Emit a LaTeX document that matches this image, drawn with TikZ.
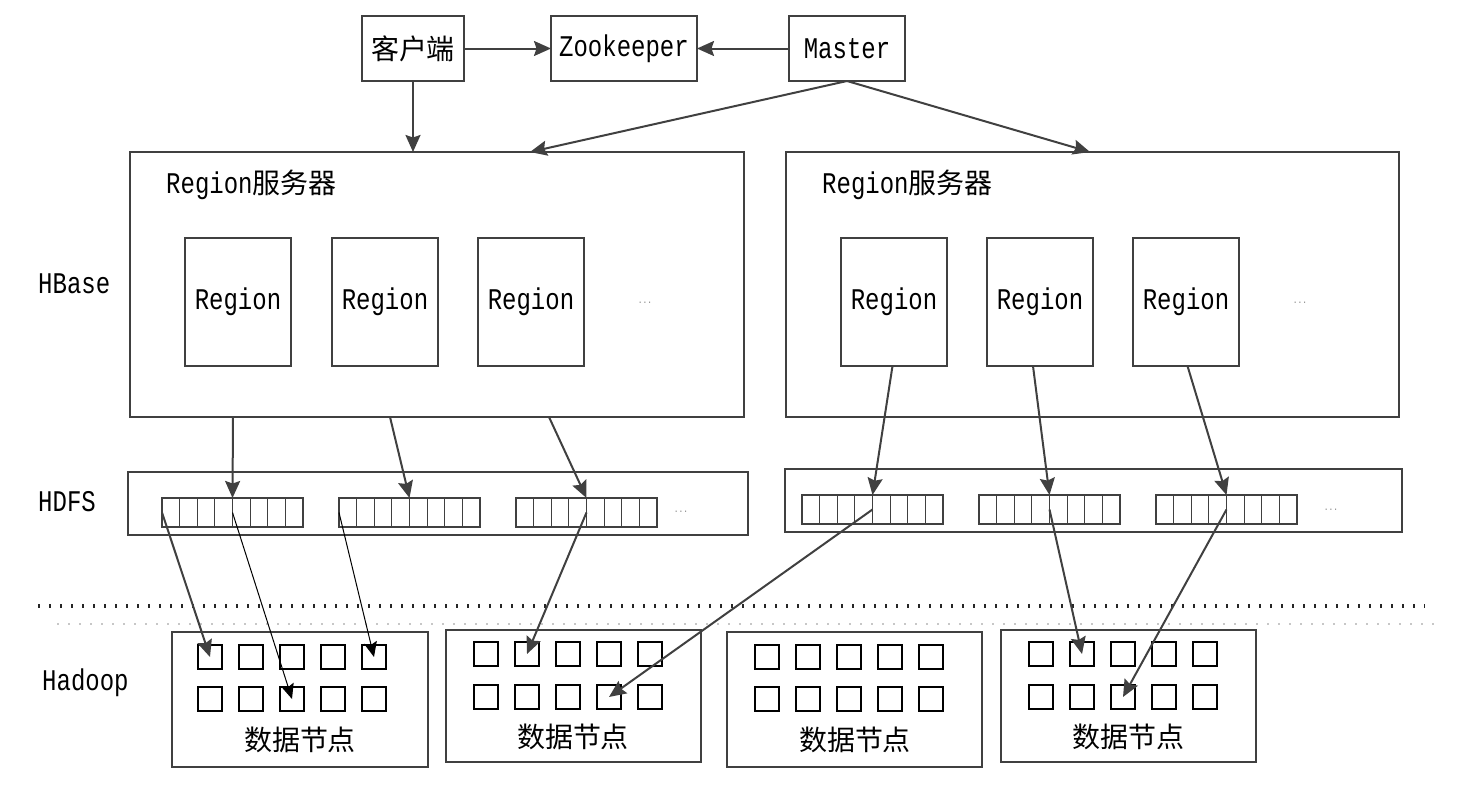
\documentclass[tikz,border=0pt]{standalone}
\usepackage{fontspec}
\setmainfont{Liberation Mono}[FakeStretch=0.8]
\newfontfamily\cjk{Noto Sans CJK SC}[Scale=0.933]
\usetikzlibrary{arrows.meta,calc}
\definecolor{boxc}{HTML}{404040}
\definecolor{arrc}{HTML}{404040}
\begin{document}
\begin{tikzpicture}[x=1pt,y=-1pt,
  box/.style={draw=boxc, line width=1.1pt, inner sep=0pt, outer sep=0pt, anchor=north west,
    font=\fontsize{30}{32}\selectfont},
  lbl/.style={inner sep=0pt, font=\fontsize{30}{32}\selectfont},
  arr/.style={draw=arrc, line width=2pt, -{Stealth[length=17pt,width=15pt,inset=2.5pt]}},
  thinarr/.style={draw=black, line width=1pt, -{Stealth[length=15pt,width=13pt,inset=2.5pt]}},
  strip/.style={draw=boxc, line width=1.1pt, inner sep=0pt, outer sep=0pt, anchor=north west,
    minimum width=141pt, minimum height=29pt},
  sq/.style={draw=black, line width=1.1pt, minimum size=24pt, inner sep=0pt, outer sep=0pt, anchor=north west},
  dots/.style={text=gray, inner sep=0pt, font=\fontsize{10}{10}\selectfont}]
\useasboundingbox (0,0) rectangle (1460,790);

% top row
\node[box, minimum width=102pt, minimum height=65pt] (client) at (362,16) {\cjk 客户端};
\node[box, minimum width=146pt, minimum height=65pt] (zoo) at (551,16) {Zookeeper};
\node[box, minimum width=116pt, minimum height=65pt] (master) at (789,16) {Master};

% region servers
\node[box, minimum width=614pt, minimum height=265pt] (srv1) at (130,152) {};
\node[box, minimum width=613pt, minimum height=265pt] (srv2) at (786,152) {};
\node[lbl, anchor=west] (srv1lbl) at (166,185) {Region{\cjk 服务器}};
\node[lbl, anchor=west] (srv2lbl) at (822,185) {Region{\cjk 服务器}};

\node[box, minimum width=106pt, minimum height=128pt] (r11) at (185,238) {Region};
\node[box, minimum width=106pt, minimum height=128pt] (r12) at (332,238) {Region};
\node[box, minimum width=106pt, minimum height=128pt] (r13) at (478,238) {Region};
\node[box, minimum width=106pt, minimum height=128pt] (r21) at (841,238) {Region};
\node[box, minimum width=106pt, minimum height=128pt] (r22) at (987,238) {Region};
\node[box, minimum width=106pt, minimum height=128pt] (r23) at (1133,238) {Region};
\node[dots] (dt1) at (645,303) {...};
\node[dots] (dt2) at (1300,303) {...};

% side labels
\node[lbl, anchor=west] (hbase) at (38,284) {HBase};
\node[lbl, anchor=west] (hdfs) at (38,502) {HDFS};
\node[lbl, anchor=west] (hadoop) at (42,683) {Hadoop};

% HDFS
\node[box, minimum width=620pt, minimum height=63pt] (h1) at (128,472) {};
\node[box, minimum width=617pt, minimum height=63pt] (h2) at (785,469) {};
\foreach \n/\x/\y in {s11/162/498, s12/339/498, s13/516/498, s21/802/495, s22/979/495, s23/1156/495}{
  \node[strip] (\n) at (\x,\y) {};
  \foreach \k in {1,...,7}
    \draw[draw=boxc, line width=1.1pt] ($(\n.north west)+(\k*17.625,0)$) -- ++(0,29);
}
\node[dots] (dt3) at (681,512) {...};
\node[dots] (dt4) at (1331,510) {...};

% dotted separators
\draw[black!85, line width=3.5pt, dash pattern=on 2.2pt off 8.8pt] (38,606) -- (1425,606);
\draw[black!22, line width=2.5pt, dash pattern=on 2pt off 9pt] (57,624) -- (1440,624);

% data nodes
\node[box, minimum width=256pt, minimum height=135pt] (d1) at (172,632) {};
\node[box, minimum width=255pt, minimum height=132pt] (d2) at (446,630) {};
\node[box, minimum width=255pt, minimum height=135pt] (d3) at (727,632) {};
\node[box, minimum width=255pt, minimum height=132pt] (d4) at (1001,630) {};
\foreach \d/\x/\ya/\yb in {d1/198/645/687, d2/474/642/685, d3/755/645/687, d4/1029/642/685}{
  \foreach \c in {1,...,5}{
    \node[sq] (\d-1-\c) at ({\x+41*(\c-1)},\ya) {};
    \node[sq] (\d-2-\c) at ({\x+41*(\c-1)},\yb) {};
  }
}
\node[lbl] (d1lbl) at (300,740) {\cjk 数据节点};
\node[lbl] (d2lbl) at (573,737) {\cjk 数据节点};
\node[lbl] (d3lbl) at (855,740) {\cjk 数据节点};
\node[lbl] (d4lbl) at (1128,737) {\cjk 数据节点};

% connectors: top
\draw[arr] (client.east) -- (zoo.west);
\draw[arr] (master.west) -- (zoo.east);
\draw[arr] (client.south) -- (client.south |- srv1.north);
\coordinate (m1) at (530,152);
\coordinate (m2) at (1090,152);
\draw[arr] (master.south) -- (m1);
\draw[arr] (master.south) -- (m2);

% servers to HDFS
\coordinate (a1) at (233,417);
\coordinate (a2) at (390,417);
\coordinate (a3) at (549,417);
\draw[arr] (a1) -- (s11.north);
\draw[arr] (a2) -- (s12.north);
\draw[arr] (a3) -- (s13.north);
\draw[arr] ($(r21.south)+(-1.5,0)$) -- (s21.north);
\draw[arr] ($(r22.south)+(-7,0)$) -- (s22.north);
\draw[arr] ($(r23.south)+(1.5,0)$) -- (s23.north);

% HDFS to data nodes
\draw[arr] (s11.west) -- (d1-1-1.center);
\draw[thinarr] (s11.center) -- (d1-2-3.center);
\draw[thinarr] (s12.west) -- (d1-1-5.center);
\draw[arr] (s13.center) -- (d2-1-2.center);
\draw[arr] (s21.center) -- (d2-2-4.center);
\draw[arr] (s22.center) -- (d4-1-2.center);
\draw[arr] (s23.center) -- (d4-2-3.center);
\end{tikzpicture}
\end{document}
